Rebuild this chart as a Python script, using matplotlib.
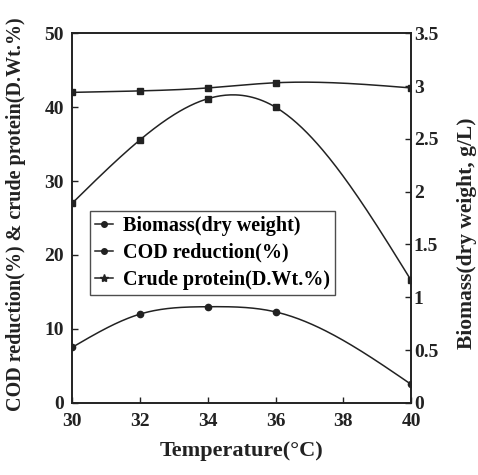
import numpy as np
import matplotlib.pyplot as plt
from matplotlib.lines import Line2D

# temperature (deg C)
temperature = [30, 32, 34, 36, 40]
# left axis (%)
crude_protein = [42.0, 42.2, 42.6, 43.3, 42.6]
cod_reduction = [7.5, 12.0, 13.0, 12.3, 2.5]
# right axis (g/L)
biomass = [1.89, 2.49, 2.88, 2.80, 1.16]


def smooth(x, y, n=200):
    # natural cubic spline through the measured points, used only for the drawn line
    x = np.asarray(x, float)
    y = np.asarray(y, float)
    h = np.diff(x)
    m = len(x)
    A = np.zeros((m, m))
    b = np.zeros(m)
    A[0, 0] = A[-1, -1] = 1
    for i in range(1, m - 1):
        A[i, i - 1] = h[i - 1]
        A[i, i] = 2 * (h[i - 1] + h[i])
        A[i, i + 1] = h[i]
        b[i] = 6 * ((y[i + 1] - y[i]) / h[i] - (y[i] - y[i - 1]) / h[i - 1])
    M = np.linalg.solve(A, b)
    xs = np.linspace(x[0], x[-1], n)
    ys = np.empty_like(xs)
    for k, xv in enumerate(xs):
        i = min(np.searchsorted(x, xv, side='right') - 1, m - 2)
        t0 = x[i + 1] - xv
        t1 = xv - x[i]
        ys[k] = (M[i] * t0 ** 3 + M[i + 1] * t1 ** 3) / (6 * h[i]) \
            + (y[i] / h[i] - M[i] * h[i] / 6) * t0 \
            + (y[i + 1] / h[i] - M[i + 1] * h[i] / 6) * t1
    return xs, ys


plt.rcParams['font.family'] = 'Liberation Serif'
plt.rcParams['font.weight'] = 'bold'
plt.rcParams['axes.labelweight'] = 'bold'

fig = plt.figure(figsize=(4.78, 4.75), dpi=100)
ax1 = fig.add_axes([0.151, 0.152, 0.709, 0.778])
ax2 = ax1.twinx()

ink = '#222222'
lw = 1.1
xs, ys = smooth(temperature, crude_protein)
ax1.plot(xs, ys, color=ink, linewidth=lw)
ax1.plot(temperature, crude_protein, linestyle='none', marker='s', markersize=4.5, color=ink)

xs, ys = smooth(temperature, cod_reduction)
ax1.plot(xs, ys, color=ink, linewidth=lw)
ax1.plot(temperature, cod_reduction, linestyle='none', marker='o', markersize=4.5, color=ink)

xs, ys = smooth(temperature, biomass)
ax2.plot(xs, ys, color=ink, linewidth=lw)
ax2.plot(temperature, biomass, linestyle='none', marker='s', markersize=4.5, color=ink)

ax1.set_xlim(30, 40)
ax1.set_ylim(0, 50)
ax2.set_ylim(0, 3.5)

ax1.set_xticks([30, 32, 34, 36, 38, 40])
ax1.set_yticks([0, 10, 20, 30, 40, 50])
ax2.set_yticks([0, 0.5, 1, 1.5, 2, 2.5, 3, 3.5])
ax2.set_yticklabels(['0', '0.5', '1', '1.5', '2', '2.5', '3', '3.5'])

for ax in (ax1, ax2):
    ax.tick_params(direction='in', length=4, width=1, labelsize=14, colors=ink, pad=3)
    for s in ax.spines.values():
        s.set_linewidth(1.2)
        s.set_color(ink)
ax1.tick_params(axis='x', pad=7)
ax1.tick_params(axis='y', pad=6)
ax2.tick_params(pad=2)

ax1.set_xlabel('Temperature(°C)', fontsize=16, color=ink, labelpad=8)
ax1.set_ylabel('COD reduction(%) & crude protein(D.Wt.%)', fontsize=14.5,
               color=ink)
ax1.yaxis.set_label_coords(-0.135, 0.51)
ax2.set_ylabel('Biomass(dry weight, g/L)', fontsize=15.5, color=ink)
ax2.yaxis.set_label_coords(1.135, 0.46)

handles = [
    Line2D([], [], color=ink, linewidth=lw, marker='o', markersize=4),
    Line2D([], [], color=ink, linewidth=lw, marker='o', markersize=4),
    Line2D([], [], color=ink, linewidth=lw, marker='*', markersize=6),
]
labels = ['Biomass(dry weight)', 'COD reduction(%)', 'Crude protein(D.Wt.%)']
leg = ax1.legend(handles, labels, loc='upper left', bbox_to_anchor=(0.053, 0.52),
                 fontsize=14.5, frameon=True, fancybox=False, edgecolor=ink,
                 handlelength=0.9, handletextpad=0.5, borderpad=0.25, labelspacing=0.35,
                 borderaxespad=0)
leg.get_frame().set_linewidth(1.0)

fig.savefig('out.png', dpi=100, facecolor='white')
